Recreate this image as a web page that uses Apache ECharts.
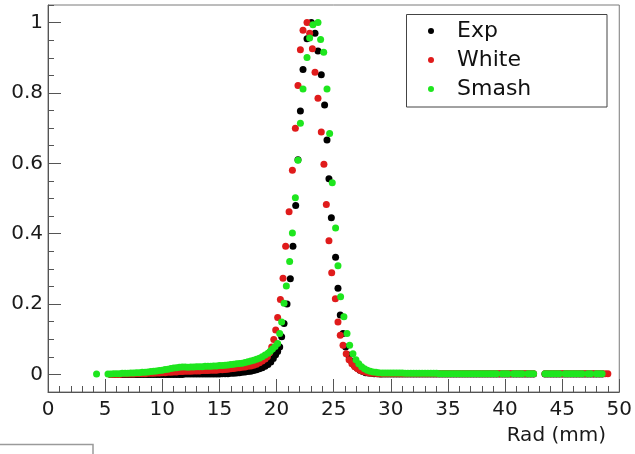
<!DOCTYPE html>
<html>
<head>
<meta charset="utf-8">
<script src="https://cdn.jsdelivr.net/npm/echarts@6/dist/echarts.min.js"></script>
<style>
html,body{margin:0;padding:0;background:#fff;}
#chart{width:635px;height:454px;}
</style>
</head>
<body>
<div id="chart"></div>
<script>
// ---- data (Rad in mm, normalised value) ----
const seriesNames = ['Exp', 'White', 'Smash'];
const xTicks = [0, 5, 10, 15, 20, 25, 30, 35, 40, 45, 50];
const yTicks = [0, 0.2, 0.4, 0.6, 0.8, 1];

// left tail radius grid
const tailLeftR = [4.25,4.5,4.75,5.0,5.25,5.5,5.75,6.0,6.25,6.5,6.75,7.0,7.25,7.5,7.75,8.0,8.25,8.5,8.75,9.0,
  9.25,9.5,9.75,10.0,10.25,10.5,10.75,11.0,11.25,11.5,11.75,12.0,12.25,12.5,12.75,13.0,13.25,13.5,13.75,14.0,
  14.25,14.5,14.75,15.0,15.25,15.5,15.75,16.0,16.25,16.5,16.75,17.0,17.25,17.5,17.75,18.0,18.25,18.5,18.75,19.0];
const expTailL = [null,null,null,null,null,0,0,0,0,0,0,0,0,0,0,0,0,0,0,0,
  0,0,0,0,0,0,0,0,0,0,0,0.001,0.001,0.001,0.001,0.001,0.001,0.001,0.001,0.001,
  0.001,0.001,0.001,0.001,0.002,0.002,0.002,0.003,0.003,0.004,0.005,0.006,0.007,0.008,0.009,0.011,0.013,0.016,0.019,0.023];
const whiteTailL = [null,null,null,null,null,0,0,0,0,0.001,0.001,0.001,0.001,0.001,0.002,0.002,0.002,0.002,0.003,0.003,
  0.003,0.004,0.004,0.005,0.005,0.006,0.006,0.007,0.007,0.008,0.008,0.009,0.009,0.009,0.010,0.010,0.010,0.011,0.011,0.011,
  0.012,0.012,0.012,0.013,0.013,0.014,0.015,0.016,0.017,0.018,0.019,0.020,0.021,0.023,0.024,0.026,0.029,0.033,0.038,0.044];
const smashTailL = [0.001,null,null,null,0.001,0.001,0.002,0.002,0.002,0.003,0.003,0.003,0.004,0.004,0.005,0.005,0.006,0.006,0.007,0.008,
  0.009,0.010,0.011,0.012,0.014,0.015,0.017,0.018,0.019,0.020,0.021,0.021,0.020,0.021,0.021,0.022,0.022,0.022,0.023,0.023,
  0.023,0.024,0.024,0.025,0.025,0.026,0.027,0.028,0.029,0.030,0.031,0.032,0.034,0.036,0.038,0.040,0.043,0.046,0.050,0.055];

// peak region (each series read separately)
const expPeakR = [19.25,19.5,19.72,19.92,20.1,20.28,20.45,20.66,20.92,21.21,21.44,21.68,21.88,22.09,22.32,22.67,23.05,23.37,23.63,23.92,
  24.21,24.42,24.59,24.8,25.17,25.38,25.58,25.82,26.05,26.3,26.55,26.8,27.05,27.3,27.55,27.8,28.05,28.3,28.55,28.8,29.05];
const expPeakV = [0.028,0.035,0.045,0.056,0.065,0.078,0.107,0.145,0.200,0.272,0.364,0.480,0.610,0.749,0.867,0.954,1.0,0.970,0.919,0.852,
  0.766,0.666,0.556,0.445,0.333,0.245,0.169,0.116,0.078,0.055,0.038,0.026,0.018,0.012,0.008,0.005,0.004,0.003,0.002,0.002,0.001];
const whitePeakR = [19.2,19.4,19.58,19.76,19.93,20.1,20.34,20.57,20.8,21.1,21.39,21.65,21.88,22.09,22.32,22.67,22.9,23.14,23.37,23.63,
  23.92,24.15,24.36,24.59,24.83,25.15,25.38,25.58,25.82,26.1,26.35,26.6,26.85,27.1,27.35,27.6,27.85,28.1,28.35,28.6,28.85,29.05];
const whitePeakV = [0.050,0.062,0.078,0.099,0.126,0.162,0.213,0.273,0.364,0.462,0.580,0.700,0.821,0.923,0.978,1.0,0.970,0.926,0.859,0.785,
  0.689,0.597,0.483,0.380,0.289,0.215,0.149,0.111,0.083,0.059,0.042,0.030,0.022,0.016,0.011,0.008,0.006,0.004,0.003,0.003,0.002,0.002];
const smashPeakR = [19.25,19.45,19.65,19.88,20.1,20.28,20.45,20.66,20.86,21.15,21.39,21.65,21.88,22.09,22.32,22.67,22.9,23.19,23.63,
  23.86,24.13,24.42,24.65,24.88,25.17,25.38,25.61,25.9,26.17,26.4,26.69,26.95,27.2,27.45,27.7,27.95,28.2,28.45,28.7,28.95];
const smashPeakV = [0.060,0.066,0.072,0.079,0.088,0.116,0.149,0.202,0.251,0.321,0.402,0.502,0.609,0.714,0.811,0.901,0.956,0.994,1.0,
  0.952,0.916,0.811,0.685,0.545,0.416,0.309,0.221,0.164,0.116,0.083,0.059,0.042,0.030,0.022,0.016,0.012,0.009,0.007,0.006,0.005];

// right tail radius grid
const tailRightR = [29.25,29.5,29.75,30.0,30.25,30.5,30.75,31.0,31.25,31.5,31.75,32.0,32.25,32.5,32.75,33.0,33.25,33.5,33.75,34.0,
  34.25,34.5,34.75,35.0,35.25,35.5,35.75,36.0,36.25,36.5,36.75,37.0,37.25,37.5,37.75,38.0,38.25,38.5,38.75,39.0,
  39.25,39.5,39.75,40.0,40.25,40.5,40.75,41.0,41.25,41.5,41.75,42.0,42.25,42.5,42.75,43.0,43.25,43.5,43.75,44.0,
  44.25,44.5,44.75,45.0,45.25,45.5,45.75,46.0,46.25,46.5,46.75,47.0,47.25,47.5,47.75,48.0,48.25,48.5,48.75,49.0,49.25];
const expTailR = [0.001,0.001,0.001,0.001,0.001,0.001,0.001,0.001,0.001,0.001,0.001,0.001,0.001,0.001,0.001,0.001,0.001,0.001,0.001,0.001,
  0.001,0.001,0.001,0.001,0.001,0.001,0.001,0.001,0.001,0.001,0.001,0.001,0.001,0.001,0.001,0.001,0.001,0.001,0.001,0.001,
  0.001,0.001,0.001,0.001,0.001,0.001,0.001,0.001,0.001,0.001,0.001,0.001,0.001,0.001,null,null,null,0.001,0.001,0.001,
  0.001,0.001,0.001,0.001,0.001,0.001,0.001,0.001,0.001,0.001,0.001,0.001,0.001,0.001,0.001,0.001,0.001,0.001,null,null,null];
const whiteTailR = [0.002,0.002,0.002,0.002,0.002,0.002,0.002,0.002,0.002,0.002,0.002,0.002,0.002,0.002,0.002,0.002,0.002,0.002,0.002,0.002,
  0.002,0.002,0.002,0.002,0.002,0.002,0.002,0.002,0.002,0.002,0.002,0.002,0.002,0.002,0.002,0.002,0.002,0.002,0.002,0.002,
  0.002,0.002,0.002,0.002,0.002,0.002,0.002,0.002,0.002,0.002,0.002,0.002,0.002,0.002,null,null,null,0.002,0.002,0.002,
  0.002,0.002,0.002,0.002,0.002,0.002,0.002,0.002,0.002,0.002,0.002,0.002,0.002,0.002,0.002,0.002,0.002,0.002,0.002,0.002,null];
const smashTailR = [0.004,0.004,0.004,0.004,0.004,0.004,0.004,0.004,0.003,0.003,0.003,0.003,0.003,0.003,0.003,0.003,0.003,0.003,0.003,0.003,
  0.002,0.002,0.002,0.002,0.002,0.002,0.002,0.002,0.002,0.002,0.002,0.002,0.002,0.002,0.002,0.002,0.002,0.002,0.002,0.002,
  0.002,null,0.002,0.002,0.002,null,0.002,0.002,0.002,0.002,null,0.002,0.002,0.002,null,null,null,0.002,0.002,0.002,
  0.002,0.002,0.002,null,0.002,0.002,0.002,0.002,0.002,0.002,0.002,null,0.002,0.002,null,0.002,0.002,0.002,null,null,null];

const colors = ['#000000', '#e01b1b', '#1ee61e'];

// ---- build point lists ----
function zipPts(xs, ys) {
  const out = [];
  for (let i = 0; i < xs.length; i++) if (ys[i] !== null) out.push([xs[i], ys[i]]);
  return out;
}
const seriesData = [
  zipPts(tailLeftR, expTailL).concat(zipPts(expPeakR, expPeakV), zipPts(tailRightR, expTailR)),
  zipPts(tailLeftR, whiteTailL).concat(zipPts(whitePeakR, whitePeakV), zipPts(tailRightR, whiteTailR)),
  zipPts(tailLeftR, smashTailL).concat(zipPts(smashPeakR, smashPeakV), zipPts(tailRightR, smashTailR))
];

const FONT = 'DejaVu Sans';
const AX = '#555';
const chart = echarts.init(document.getElementById('chart'), null, {renderer: 'canvas'});
chart.setOption({
  animation: false,
  backgroundColor: '#ffffff',
  grid: {left: 48, top: 5, right: 15, bottom: 62, show: true, borderColor: '#7a7a7a', borderWidth: 1},
  xAxis: {
    type: 'value', min: xTicks[0], max: xTicks[xTicks.length - 1], interval: 5,
    axisLine: {show: true, onZero: false, lineStyle: {color: AX, width: 1}},
    axisTick: {show: true, inside: true, length: 13, lineStyle: {color: AX}},
    minorTick: {show: true, splitNumber: 5, length: 6, lineStyle: {color: AX}},
    axisLabel: {margin: 8, fontFamily: FONT, fontSize: 20, color: '#1a1a1a'},
    splitLine: {show: false}, minorSplitLine: {show: false}
  },
  yAxis: [{
    type: 'value', min: -0.05, max: 1.05,
    axisLine: {show: true, onZero: false, lineStyle: {color: AX, width: 1}},
    axisTick: {show: true, inside: true, length: 13, customValues: yTicks, lineStyle: {color: AX}},
    axisLabel: {show: true, customValues: yTicks, margin: 5, fontFamily: FONT, fontSize: 20, color: '#1a1a1a'},
    splitLine: {show: false}
  }, {
    type: 'value', min: -0.05, max: 1.05, interval: 0.05, position: 'left', offset: 0,
    axisLine: {show: false, onZero: false},
    axisTick: {show: true, inside: true, length: 6, lineStyle: {color: AX}},
    axisLabel: {show: false},
    splitLine: {show: false}
  }],
  legend: {
    data: seriesNames, orient: 'vertical', left: 428, top: 20, padding: 0,
    itemWidth: 6, itemHeight: 6, itemGap: 7, icon: 'circle',
    textStyle: {fontFamily: FONT, fontSize: 22, lineHeight: 22, color: '#111', padding: [0, 0, 0, 18]}
  },
  series: seriesNames.map((n, i) => ({
    name: n, type: 'scatter', data: seriesData[i], symbol: 'circle', symbolSize: 7,
    itemStyle: {color: colors[i], opacity: 1}, emphasis: {disabled: true}
  })),
  graphic: [
    {type: 'rect', shape: {x: 406.5, y: 14.5, width: 200.5, height: 92.5}, style: {fill: null, stroke: '#444', lineWidth: 1}, z: 10},
    {type: 'text', right: 29, top: 426, style: {text: 'Rad (mm)', font: '20px "DejaVu Sans"', fill: '#1a1a1a'}},
    {type: 'polyline', shape: {points: [[0, 444.5], [93, 444.5], [93, 454]]}, style: {stroke: '#9a9a9a', lineWidth: 1.5, fill: null}}
  ]
});
</script>
</body>
</html>
